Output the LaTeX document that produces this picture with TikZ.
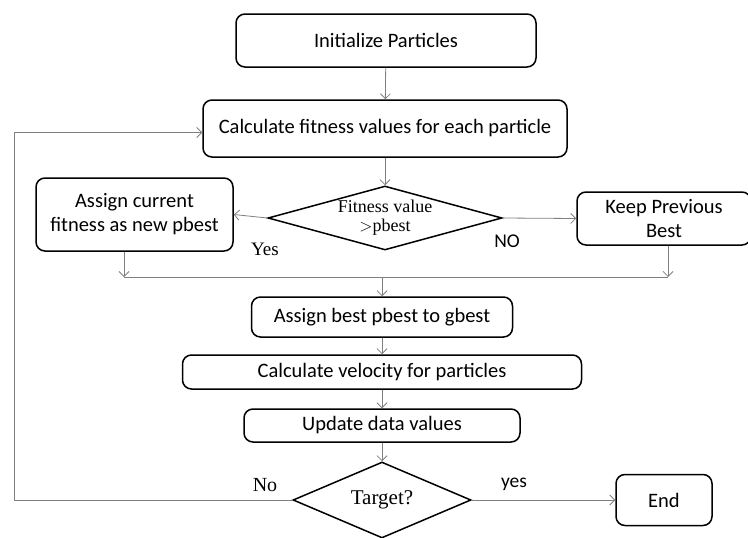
\documentclass[tikz,border=0pt]{standalone}
\usepackage{fontspec}
\setmainfont{Liberation Serif}
\newfontfamily\boxfont{Carlito}
\usetikzlibrary{shapes.geometric,arrows.meta}

\begin{document}
\begin{tikzpicture}[x=1pt, y=-1pt,
    stepbox/.style={draw, line width=1.5pt, rounded corners=9pt, inner sep=0pt,
      align=center, font=\boxfont\fontsize{20.5}{24}\selectfont},
    decision/.style={draw, diamond, line width=1.5pt, inner sep=0pt, align=center},
    flow/.style={draw=gray, line width=0.8pt, -{Straight Barb[length=5pt,width=10pt]}},
    link/.style={draw=gray, line width=0.8pt},
    lbl/.style={inner sep=0pt}]
  \useasboundingbox (0,0) rectangle (748,538);

  % main column
  \node[stepbox, minimum width=300, minimum height=53] (init) at (386,40.5) {Initialize Particles};
  \node[stepbox, minimum width=364, minimum height=57] (calc) at (385,128.5) {Calculate fitness values for each particle};
  \node[decision, aspect=3.65, minimum width=234, minimum height=64,
        font=\fontsize{18}{19}\selectfont] (fit) at (385,218) {Fitness value\\$>$pbest};

  % side boxes
  \node[stepbox, minimum width=197, minimum height=73] (pnew) at (134.5,214.5) {Assign current\\fitness as new pbest};
  \node[stepbox, minimum width=174, minimum height=53] (pold) at (664,218.5) {Keep Previous\\Best};

  \node[stepbox, minimum width=261, minimum height=40] (gbest) at (382,317) {Assign best pbest to gbest};
  \node[stepbox, minimum width=399, minimum height=34] (vel) at (382,372) {Calculate velocity for particles};
  \node[stepbox, minimum width=276, minimum height=33] (upd) at (382,425.5) {Update data values};
  \node[decision, aspect=2.34, minimum width=178, minimum height=76,
        font=\fontsize{21}{23}\selectfont] (target) at (382,500) {Target?};
  \node[stepbox, minimum width=96, minimum height=51] (end) at (664,500) {End};

  % labels
  \node[lbl, font=\fontsize{19}{22}\selectfont] (yesL) at (265,249) {Yes};
  \node[lbl, font=\boxfont\fontsize{19.5}{22}\selectfont] (noR) at (507,241) {NO};
  \node[lbl, font=\fontsize{20}{22}\selectfont] (noL) at (265,485) {No};
  \node[lbl, font=\boxfont\fontsize{19.5}{22}\selectfont] (yesR) at (514,484) {yes};

  % merge line
  \coordinate (mL) at (124,277);
  \coordinate (mR) at (668,277);
  \coordinate (mC) at (382,277);
  \coordinate (loop) at (14,500);

  \draw[flow] (init) -- (calc);
  \draw[flow] (calc) -- (fit);
  \draw[flow] (fit.west) -- (pnew.east);
  \draw[flow] (fit.east) -- (pold.west);
  \draw[flow] (mL |- pnew.south) -- (mL);
  \draw[flow] (mR |- pold.south) -- (mR);
  \draw[link] (mL) -- (mR);
  \draw[flow] (mC) -- (gbest.north);
  \draw[flow] (gbest) -- (vel);
  \draw[flow] (vel) -- (upd);
  \draw[flow] (upd) -- (target);
  \draw[flow] (target.east) -- (end.west);
  \draw[flow] (target.west) -- (loop) |- ([yshift=-4pt]calc.west);
\end{tikzpicture}
\end{document}
